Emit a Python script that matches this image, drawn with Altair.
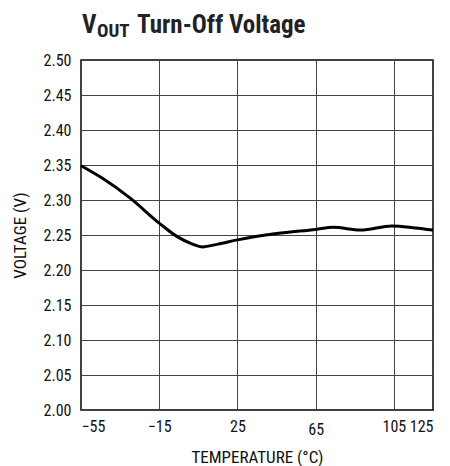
import altair as alt
import pandas as pd

temps = [-55, -44, -30, -15, -6, 2, 7, 15, 25, 45, 65, 74, 88, 104, 116, 125]
volts = [2.349, 2.331, 2.303, 2.267, 2.248, 2.237, 2.233, 2.237, 2.243, 2.252, 2.258, 2.261, 2.257, 2.263, 2.260, 2.257]
x_ticks = [-55, -15, 25, 65, 105, 125]
y_ticks = [2.00, 2.05, 2.10, 2.15, 2.20, 2.25, 2.30, 2.35, 2.40, 2.45, 2.50]

FONT = "Liberation Sans Narrow, Roboto Condensed, DejaVu Sans Condensed, Roboto, Liberation Sans"

df = pd.DataFrame({"t": temps, "v": volts})

line = alt.Chart(df).mark_line(color="black", strokeWidth=3, interpolate="monotone").encode(
    x=alt.X("t:Q",
            scale=alt.Scale(domain=[-55, 125], nice=False, zero=False),
            axis=alt.Axis(values=x_ticks, title="TEMPERATURE (°C)", format="d",
                          labelExpr="replace(datum.label, '-', '\u2013')",
                          ticks=False,
                          labelPadding={"condition": {"test": "datum.value == 65", "value": 11}, "value": 8},
                          titlePadding=12)),
    y=alt.Y("v:Q",
            scale=alt.Scale(domain=[2.0, 2.5], nice=False, zero=False),
            axis=alt.Axis(values=y_ticks, title="VOLTAGE (V)", format=".2f", ticks=False,
                          labelPadding=10, titlePadding=14)),
)

def txt(s, x, y, size):
    return alt.Chart(alt.Data(values=[{}])).mark_text(
        text=s, align="left", baseline="alphabetic", font=FONT, fontSize=size,
        fontWeight="bold", color="#222"
    ).encode(x=alt.value(x), y=alt.value(y))

title = txt("V", 1, -27, 25) + txt("OUT", 16, -23, 19) + txt("Turn-Off Voltage", 56, -27, 25)

chart = alt.layer(line, title).properties(
    width=352, height=350,
    autosize=alt.AutoSizeParams(type="none"),
    padding={"left": 73, "top": 52, "right": 9, "bottom": 56},
).configure_view(stroke="black", strokeWidth=1.5).configure_axis(
    grid=True, gridColor="#444", gridWidth=1, domain=False,
    labelFont=FONT, labelFontSize=16, labelColor="#111",
    titleFont=FONT, titleFontSize=17, titleFontWeight="normal", titleColor="#111",
)

chart.save("out.html", embed_options={"renderer": "svg", "actions": False})
